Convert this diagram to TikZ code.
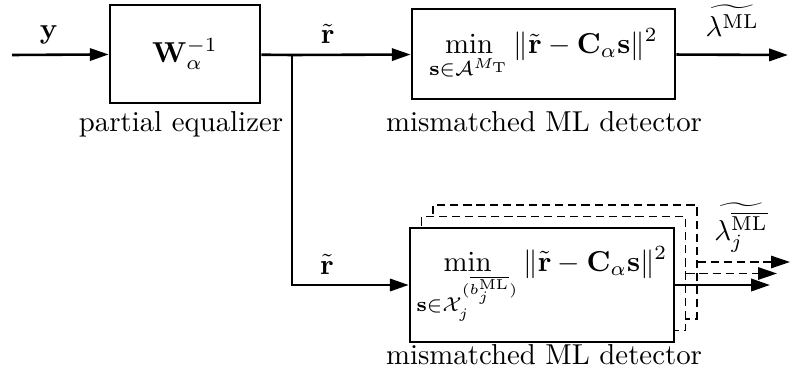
\documentclass[tikz,border=0pt]{standalone}
\usepackage{amsmath,amssymb}
\usepackage{tikz}
\usetikzlibrary{arrows.meta,positioning}

\begin{document}
\begin{tikzpicture}[x=0.122mm, y=-0.122mm, >={Triangle[length=2.3mm,width=1.5mm]},
  every node/.style={align=center},
  blk/.style={draw, line width=0.9pt, inner sep=0pt, fill=white},
  stackbox/.style={blk, line width=0.6pt, dash pattern=on 1mm off 0.6mm},
  sig/.style={line width=0.9pt},
  dsig/.style={line width=0.6pt, dash pattern=on 1mm off 0.6mm}]
  \useasboundingbox (0,0) rectangle (792,380);

  % equalizer and the two detectors
  \node[blk, minimum width=18.3mm, minimum height=12mm] (eq) at (185,54) {$\mathbf{W}_{\alpha}^{-1}$};
  \node[blk, minimum width=32.1mm, minimum height=11mm] (det) at (543.5,54)
    {$\displaystyle\min_{\mathbf{s}\in\mathcal{A}^{M_{\mathrm{T}}}}\|\tilde{\mathbf{r}}-\mathbf{C}_{\alpha}\mathbf{s}\|^{2}$};
  \node[stackbox, minimum width=32.2mm, minimum height=13.9mm] (ml3) at (565,262) {};
  \node[stackbox, minimum width=32.2mm, minimum height=13.9mm] (ml2) at (553.5,273.5) {};
  \node[blk, minimum width=32.2mm, minimum height=13.9mm] (mlj) at (542,285)
    {$\displaystyle\min_{\mathbf{s}\in\mathcal{X}_{j}^{(\overline{b_{j}^{\mathrm{ML}}})}}\|\tilde{\mathbf{r}}-\mathbf{C}_{\alpha}\mathbf{s}\|^{2}$};

  \node[anchor=base] (eqlbl) at (181,132) {partial equalizer};
  \node[anchor=base] (detlbl) at (544,132) {mismatched ML detector};
  \node[anchor=base] (mljlbl) at (544,365) {mismatched ML detector};

  \coordinate (in) at (12,55);
  \coordinate (split) at (292,55);
  \coordinate (out) at (788,55);
  \coordinate (outa) at (770,285);
  \coordinate (outb) at (777,273.5);
  \coordinate (outc) at (790,262);

  % signals
  \draw[->, sig] (in) -- node[above, pos=0.38] {$\mathbf{y}$} (eq);
  \draw[sig] (eq) -- (split);
  \draw[->, sig] (split) -- node[above, pos=0.3] {$\tilde{\mathbf{r}}$} (det);
  \draw[->, sig] (split) |- node[above, pos=0.65] {$\tilde{\mathbf{r}}$} (mlj);
  \draw[->, sig] (det) -- node[above=0.9mm] {$\widetilde{\lambda^{\mathrm{ML}}}$} (out);
  \draw[->, sig] (mlj) -- (outa);
  \draw[->, dsig] (ml2) -- (outb);
  \draw[->, dsig] (ml3) -- (outc);
  \node (lamj) at (741,228) {$\widetilde{\lambda_{j}^{\overline{\mathrm{ML}}}}$};
\end{tikzpicture}
\end{document}
